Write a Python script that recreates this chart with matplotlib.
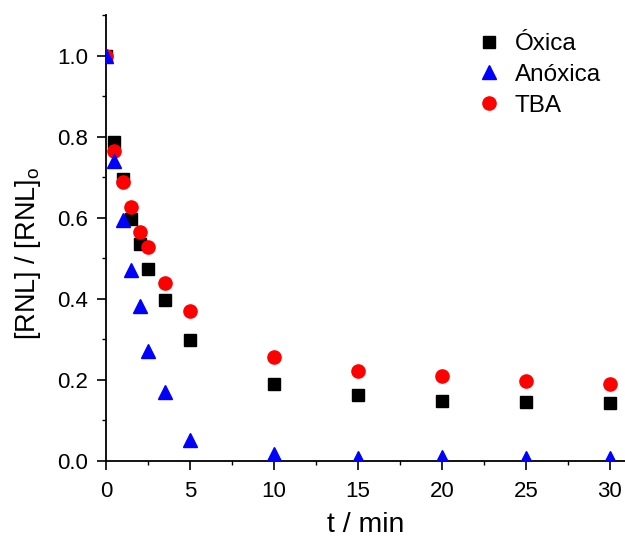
import matplotlib
matplotlib.use("Agg")
import matplotlib.pyplot as plt
from matplotlib.ticker import MultipleLocator, FormatStrFormatter

plt.rcParams['font.family'] = ['Liberation Sans', 'DejaVu Sans']
plt.rcParams['mathtext.fontset'] = 'custom'
plt.rcParams['mathtext.rm'] = 'Liberation Sans'

t = [0, 0.5, 1, 1.5, 2, 2.5, 3.5, 5, 10, 15, 20, 25, 30]
oxica = [1.0, 0.787, 0.696, 0.597, 0.536, 0.474, 0.397, 0.299, 0.190, 0.163, 0.148, 0.146, 0.143]
anoxica = [1.0, 0.739, 0.594, 0.472, 0.383, 0.272, 0.169, 0.052, 0.017, 0.008, 0.009, 0.008, 0.008]
tba = [1.0, 0.764, 0.688, 0.627, 0.566, 0.529, 0.439, 0.369, 0.257, 0.222, 0.209, 0.198, 0.190]

W, H = 625, 543
fig = plt.figure(figsize=(W / 100, H / 100), dpi=100)
ax = fig.add_axes([106 / W, 1 - 461 / H, 519 / W, 446 / H])

ax.plot(t, oxica, 's', color='black', markersize=8.5, linestyle='none', label='Óxica', zorder=2)
ax.plot(t, anoxica, '^', color='blue', markersize=10, linestyle='none', label='Anóxica', zorder=4)
ax.plot(t, tba, 'o', color='red', markersize=9.5, linestyle='none', label='TBA', zorder=3)

ax.set_xlim(0, 30.9)
ax.set_ylim(0, 1.1)
ax.xaxis.set_major_locator(MultipleLocator(5))
ax.xaxis.set_minor_locator(MultipleLocator(2.5))
ax.yaxis.set_major_locator(MultipleLocator(0.2))
ax.yaxis.set_minor_locator(MultipleLocator(0.1))
ax.yaxis.set_major_formatter(FormatStrFormatter('%.1f'))

for s in ['top', 'right']:
    ax.spines[s].set_visible(False)
for s in ['left', 'bottom']:
    ax.spines[s].set_linewidth(1.3)

ax.tick_params(which='major', direction='out', length=6.5, width=1.2, labelsize=16, pad=6.5)
ax.tick_params(axis='x', which='major', pad=8)
ax.tick_params(which='minor', direction='out', length=3, width=1.0)

ax.set_xlabel('t / min', fontsize=20.5)
ax.xaxis.set_label_coords(0.5, (461 - 512) / 446)
ax.set_ylabel(r'[RNL] / [RNL]$_\mathregular{o}$', fontsize=19.5)
ax.yaxis.set_label_coords((43 - 106) / 519, (461 - 253.5) / 446)

ax.legend(loc='upper left', frameon=False, fontsize=17.5, handletextpad=0.45,
          labelspacing=0.36, borderaxespad=0, borderpad=0, handlelength=1.2,
          bbox_to_anchor=(474.5 / W, 1 - 33 / H), bbox_transform=fig.transFigure)

fig.savefig('out.png', dpi=100)
